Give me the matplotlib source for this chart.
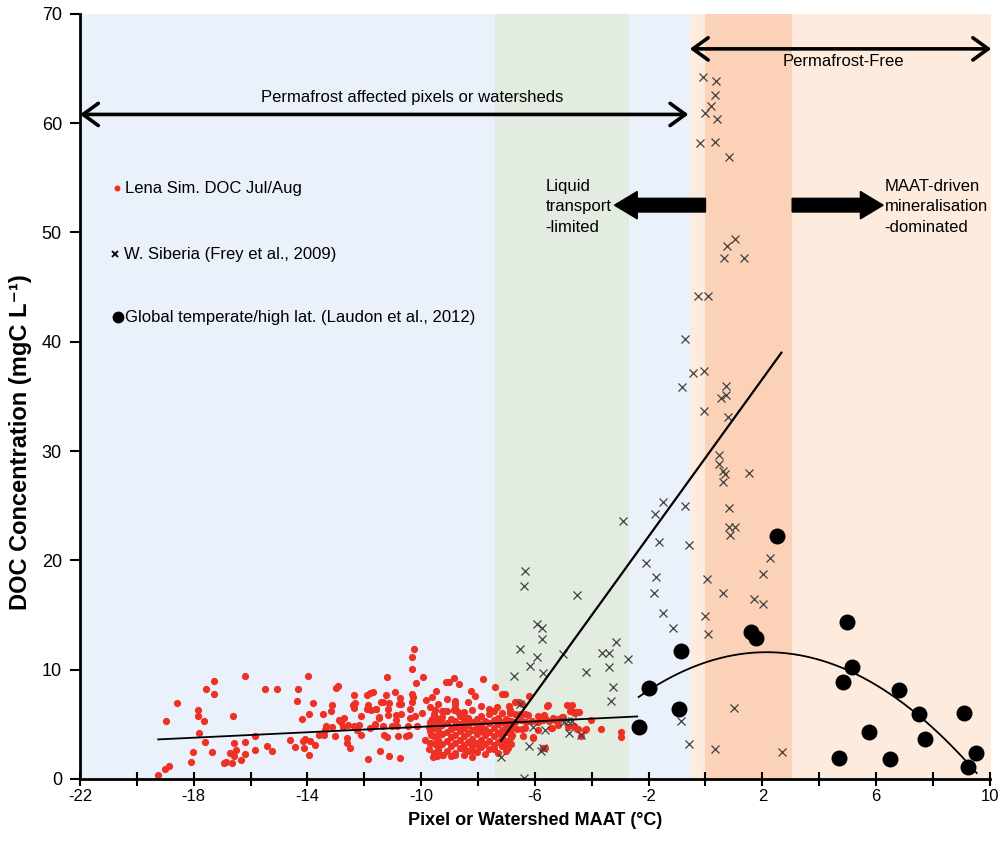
import matplotlib.pyplot as plt
import numpy as np
from matplotlib.patches import FancyArrow

plt.rcParams['font.family'] = ['Liberation Sans', 'DejaVu Sans']
plt.rcParams['axes.unicode_minus'] = False

# background regions (MAAT ranges)
band_blue = (-22, -0.55)
band_green = (-7.4, -2.7)
band_light_orange = (-0.55, 10.05)
band_dark_orange = (0.0, 3.05)

# Lena simulated DOC Jul/Aug (MAAT, DOC)
lena_pts = [
    (-19.26, 0.37), (-19.0, 0.91), (-18.88, 1.19), (-18.97, 5.27), (-18.57, 6.91),
    (-18.11, 1.56), (-18.01, 2.50), (-17.85, 6.27), (-17.85, 5.78), (-17.64, 5.33),
    (-17.80, 4.23), (-17.60, 3.38), (-17.55, 8.19), (-17.30, 8.95), (-17.30, 7.82),
    (-17.37, 2.50), (-16.94, 1.43), (-16.87, 1.52), (-16.66, 1.46), (-16.73, 2.41),
    (-16.57, 2.13), (-16.52, 2.62), (-16.57, 3.26), (-16.62, 5.73), (-16.33, 1.72),
    (-16.21, 2.29), (-16.20, 3.42), (-16.21, 9.38), (-15.83, 3.93), (-15.84, 2.62),
    (-15.50, 8.25), (-15.08, 8.25), (-15.43, 3.00), (-15.25, 2.56), (-14.63, 3.60),
    (-14.45, 2.93), (-14.36, 7.15), (-14.33, 8.25), (-14.18, 5.49), (-14.17, 3.51),
    (-14.10, 3.66), (-14.13, 2.81), (-13.98, 9.42), (-13.96, 5.91), (-13.93, 2.20),
    (-13.90, 3.48), (-13.81, 6.91), (-13.72, 3.11), (-13.58, 4.03), (-13.46, 5.91),
    (-13.43, 4.03), (-13.34, 4.89), (-13.37, 4.48), (-13.18, 6.18), (-13.12, 6.73),
    (-13.14, 4.77), (-13.03, 3.89), (-12.99, 8.34), (-12.93, 8.50), (-12.90, 5.44),
    (-12.81, 5.17), (-12.71, 5.58), (-12.75, 4.77), (-12.62, 3.75), (-12.62, 3.26),
    (-12.51, 2.81), (-12.58, 4.93), (-12.37, 4.85), (-12.35, 7.64), (-12.40, 6.77),
    (-12.31, 6.95), (-12.36, 6.45), (-12.20, 4.93), (-12.24, 4.48), (-12.13, 4.03),
    (-12.10, 5.78), (-11.90, 7.69), (-11.81, 7.87), (-11.71, 7.97), (-11.87, 6.73),
    (-11.90, 6.36), (-11.75, 6.33), (-11.60, 6.36), (-11.80, 4.62), (-11.61, 4.98),
    (-11.48, 5.61), (-11.86, 1.83), (-11.43, 2.59), (-11.40, 7.05),
    (-10.26, 11.92), (-10.33, 11.16), (-10.33, 10.06), (-11.21, 9.33), (-9.93, 9.33),
    (-10.18, 8.75), (-11.24, 7.69), (-10.91, 7.96), (-10.33, 7.75), (-10.27, 7.53),
    (-10.75, 7.38), (-11.34, 7.02), (-11.12, 6.92), (-10.78, 6.83), (-10.70, 6.83),
    (-10.33, 7.07), (-9.84, 7.23), (-9.61, 7.47), (-9.46, 8.08), (-11.58, 6.36),
    (-11.15, 6.36), (-10.38, 6.36), (-9.98, 6.05), (-9.52, 6.30), (-9.27, 6.24),
    (-11.47, 5.63), (-11.17, 5.81), (-10.90, 5.87), (-10.70, 5.94), (-10.40, 5.57),
    (-10.22, 5.75), (-10.88, 5.39), (-9.62, 5.45), (-9.46, 5.60), (-9.30, 5.51),
    (-11.61, 4.99), (-11.33, 4.84), (-11.04, 4.84), (-10.84, 4.84), (-10.46, 4.84),
    (-10.16, 4.84), (-9.74, 4.72), (-9.59, 5.08), (-9.41, 5.17), (-11.29, 4.03),
    (-11.19, 3.85), (-10.83, 3.97), (-10.53, 3.91), (-10.41, 4.03), (-9.85, 3.55),
    (-9.67, 4.00), (-9.51, 3.85), (-9.37, 4.10), (-9.69, 3.25), (-9.53, 3.18),
    (-9.36, 3.09), (-9.74, 2.70), (-9.41, 2.63), (-11.12, 2.09), (-10.76, 1.96),
    (-9.60, 2.02), (-9.44, 2.09),
    (-9.11, 8.87), (-9.02, 8.87), (-8.86, 9.24), (-8.67, 8.69), (-7.81, 9.12),
    (-7.41, 8.39), (-8.26, 8.05), (-8.12, 7.59), (-7.15, 7.78), (-7.05, 7.78),
    (-8.81, 7.17), (-8.81, 6.83), (-9.20, 6.24), (-8.86, 6.30), (-8.71, 6.09),
    (-8.54, 5.93), (-7.61, 6.36), (-7.32, 6.60), (-6.88, 6.30), (-9.23, 2.20),
    (-8.81, 2.16), (-8.46, 2.63), (-8.22, 2.63), (-7.96, 3.00), (-7.44, 2.78),
    (-9.70, 3.3), (-9.70, 4.4), (-9.70, 5.2), (-9.70, 6.6),
    (-9.55, 2.4), (-9.55, 3.9), (-9.55, 4.7), (-9.55, 5.9),
    (-9.40, 2.9), (-9.40, 3.6), (-9.40, 4.5), (-9.40, 5.4), (-9.40, 6.9),
    (-9.25, 2.2), (-9.25, 3.2), (-9.25, 4.1), (-9.25, 4.9), (-9.25, 5.7),
    (-9.10, 2.6), (-9.10, 3.5), (-9.10, 4.3), (-9.10, 5.1), (-9.10, 6.2), (-9.10, 7.3),
    (-8.95, 2.1), (-8.95, 3.0), (-8.95, 3.8), (-8.95, 4.6), (-8.95, 5.5),
    (-8.80, 2.4), (-8.80, 3.3), (-8.80, 4.0), (-8.80, 4.8), (-8.80, 5.3), (-8.80, 6.5),
    (-8.65, 2.8), (-8.65, 3.6), (-8.65, 4.4), (-8.65, 5.0), (-8.65, 5.8),
    (-8.50, 2.2), (-8.50, 3.1), (-8.50, 3.9), (-8.50, 4.7), (-8.50, 5.4), (-8.50, 6.1),
    (-8.35, 2.6), (-8.35, 3.4), (-8.35, 4.2), (-8.35, 4.9), (-8.35, 5.6), (-8.35, 7.0),
    (-8.20, 2.0), (-8.20, 3.0), (-8.20, 3.7), (-8.20, 4.5), (-8.20, 5.2), (-8.20, 6.3),
    (-8.05, 2.5), (-8.05, 3.3), (-8.05, 4.1), (-8.05, 4.8), (-8.05, 5.5),
    (-7.90, 2.9), (-7.90, 3.6), (-7.90, 4.4), (-7.90, 5.0), (-7.90, 5.8), (-7.90, 6.7),
    (-7.75, 2.3), (-7.75, 3.2), (-7.75, 4.0), (-7.75, 4.6), (-7.75, 5.3),
    (-7.60, 2.7), (-7.60, 3.5), (-7.60, 4.3), (-7.60, 5.1), (-7.60, 5.9),
    (-7.45, 3.1), (-7.45, 3.9), (-7.45, 4.7), (-7.45, 5.4), (-7.45, 6.2),
    (-7.30, 2.4), (-7.30, 3.4), (-7.30, 4.2), (-7.30, 5.0), (-7.30, 5.6),
    (-7.15, 3.0), (-7.15, 3.8), (-7.15, 4.5), (-7.15, 5.2), (-7.15, 6.0),
    (-7.00, 2.6), (-7.00, 3.5), (-7.00, 4.3), (-7.00, 4.9), (-7.00, 5.5),
    (-6.85, 3.2), (-6.85, 4.0), (-6.85, 4.6), (-6.85, 5.3),
    (-6.20, 7.59), (-6.69, 7.00), (-6.57, 7.00), (-6.46, 6.90), (-6.92, 6.70),
    (-5.54, 6.73), (-4.88, 6.76), (-4.70, 6.76), (-4.76, 6.24), (-4.58, 6.00),
    (-6.88, 6.00), (-6.71, 5.95), (-6.52, 5.95), (-6.35, 5.90), (-6.24, 5.85),
    (-5.90, 5.80), (-5.75, 5.60), (-5.64, 5.60), (-5.35, 5.60), (-5.18, 5.50),
    (-5.00, 5.65), (-6.81, 4.80), (-6.81, 4.00), (-6.83, 3.85), (-6.63, 4.60),
    (-6.46, 4.60), (-6.33, 4.70), (-6.07, 3.75), (-5.88, 4.48), (-5.40, 4.71),
    (-5.18, 4.93), (-4.64, 4.84), (-4.53, 4.53), (-6.95, 2.79), (-5.64, 2.79),
    (-4.46, 6.12), (-4.56, 6.12), (-4.04, 5.39), (-4.48, 4.53), (-4.21, 4.53),
    (-3.66, 4.59), (-2.96, 4.32), (-2.96, 3.80), (-4.39, 3.93), (-5.57, 6.68),
    (-4.67, 6.15), (-5.03, 5.70), (-5.44, 4.71), (-6.06, 3.80), (-5.70, 2.79),
    (-6.43, 3.90), (-7.19, 3.55), (-6.96, 3.25), (-5.67, 5.85), (-5.12, 5.50),
    (-4.83, 4.80), (-4.23, 4.50),
    (-6.90, 5.3), (-6.70, 5.2), (-6.50, 5.4), (-6.30, 5.25), (-6.10, 5.35),
    (-5.90, 5.2), (-5.70, 5.4), (-5.50, 5.3), (-5.30, 5.4),
]

# W. Siberia, Frey et al. 2009
siberia_pts = [
    (-0.08, 64.2), (0.36, 63.9), (0.33, 62.6), (0.18, 61.6), (0.00, 60.9),
    (0.39, 60.4), (-0.20, 58.2), (0.35, 58.3), (0.82, 56.9), (1.03, 49.4),
    (0.77, 48.8), (0.66, 47.7), (1.37, 47.7), (-0.26, 44.2), (0.08, 44.2),
    (-0.71, 40.3), (-0.43, 37.1), (-0.06, 37.3), (-0.82, 35.9), (0.73, 36.0),
    (0.53, 34.9), (0.73, 35.1), (-0.06, 33.7), (0.78, 33.1), (0.48, 29.6),
    (0.46, 28.8), (0.61, 28.2), (0.70, 27.9), (1.53, 28.0), (0.61, 27.2),
    (-1.50, 25.3), (-0.72, 25.0), (-1.79, 24.2), (0.83, 24.8), (0.83, 23.1),
    (1.04, 23.1), (0.85, 22.3), (-2.89, 23.6), (-1.64, 21.7), (-0.58, 21.4),
    (2.26, 20.2), (-2.08, 19.8), (2.01, 18.8), (-1.73, 18.5), (0.04, 18.3),
    (-1.81, 17.0), (0.62, 17.0), (1.70, 16.5), (2.01, 16.0), (-1.48, 15.2),
    (-0.01, 14.9), (-1.13, 13.8), (0.09, 13.3), (-2.74, 11.0), (1.02, 6.5),
    (-0.85, 5.3), (-0.59, 3.2), (0.33, 2.7), (2.68, 2.5),
    (-6.33, 19.0), (-6.39, 17.7), (-4.52, 16.8), (-5.94, 14.2), (-5.74, 13.8),
    (-5.74, 12.8), (-6.51, 11.9), (-5.94, 11.2), (-5.00, 11.4), (-6.18, 10.3),
    (-5.73, 9.7), (-6.74, 9.4), (-4.21, 9.8), (-3.15, 12.5), (-3.64, 11.5),
    (-3.39, 11.5), (-3.39, 10.2), (-3.26, 8.4), (-3.32, 7.1), (-6.51, 6.9),
    (-6.06, 4.8), (-5.64, 4.5), (-4.97, 5.2), (-4.82, 5.3), (-4.68, 5.3),
    (-4.81, 4.2), (-4.39, 4.0), (-6.20, 3.0), (-5.79, 2.6), (-5.71, 2.8),
    (-7.19, 2.0), (-6.39, 0.05),
]

# Global temperate / high latitude, Laudon et al. 2012
laudon_pts = [
    (-2.00, 8.28), (-2.34, 4.73), (-0.85, 11.74), (-0.94, 6.43), (2.52, 22.26),
    (1.60, 13.48), (1.78, 12.86), (4.97, 14.36), (5.16, 10.25), (4.83, 8.87),
    (6.80, 8.17), (5.74, 4.33), (4.70, 1.89), (6.48, 1.80), (7.52, 5.98),
    (7.73, 3.66), (9.09, 6.07), (9.52, 2.35), (9.23, 1.08),
]

# trend lines
lena_fit_x = [-19.25, -2.4]
lena_fit_y = [3.62, 5.72]
siberia_fit_x = [-7.19, 2.67]
siberia_fit_y = [3.5, 39.0]
laudon_peak_x, laudon_peak_y, laudon_curv = 2.15, 11.6, 0.2025
laudon_range = (-2.35, 9.54)

red = '#EE3124'

fig = plt.figure(figsize=(10.02, 8.52), dpi=100)
ax = fig.add_axes([0.0798, 0.0857, 0.908, 0.898])

ax.axvspan(*band_blue, color='#EAF1FA', lw=0, zorder=0)
ax.axvspan(*band_green, color='#E3ECE1', lw=0, zorder=0)
ax.axvspan(*band_light_orange, color='#FDECDE', lw=0, zorder=0, clip_on=False)
ax.axvspan(*band_dark_orange, color='#FBD2B8', lw=0, zorder=0)

lx, ly = np.array(lena_pts).T
sx, sy = np.array(siberia_pts).T
gx, gy = np.array(laudon_pts).T

ax.plot(lx, ly, 'o', color=red, ms=5.2, mew=0, zorder=2)
ax.plot(sx, sy, 'x', color='#404040', ms=5.5, mew=0.9, zorder=3)
ax.plot(gx, gy, 'o', color='black', ms=11.5, mew=0, zorder=4)

ax.plot(lena_fit_x, lena_fit_y, color='black', lw=1.3, zorder=5)
ax.plot(siberia_fit_x, siberia_fit_y, color='black', lw=1.6, zorder=5)
qx = np.linspace(laudon_range[0], laudon_range[1], 200)
qy = laudon_peak_y - laudon_curv * (qx - laudon_peak_x) ** 2
ax.plot(qx, qy, color='black', lw=1.3, zorder=5)

# double-headed range arrows
arrow_kw = dict(arrowstyle='<->,head_length=0.55,head_width=0.4', lw=2.6,
                color='black', shrinkA=0, shrinkB=0, mutation_scale=20)
ax.annotate('', xy=(-22, 60.8), xytext=(-0.6, 60.8), arrowprops=arrow_kw,
            annotation_clip=False)
ax.annotate('', xy=(-0.55, 66.8), xytext=(10.05, 66.8), arrowprops=arrow_kw,
            annotation_clip=False)
ax.text(-10.3, 61.7, 'Permafrost affected pixels or watersheds', ha='center',
        va='bottom', fontsize=12)
ax.text(4.85, 65.6, 'Permafrost-Free', ha='center', va='center', fontsize=12)

# thick arrows
ax.add_patch(FancyArrow(0.0, 52.5, -3.2, 0, width=1.25, head_width=2.5,
                        head_length=0.8, length_includes_head=True,
                        color='black', zorder=6))
ax.add_patch(FancyArrow(3.05, 52.5, 3.2, 0, width=1.25, head_width=2.5,
                        head_length=0.8, length_includes_head=True,
                        color='black', zorder=6))
ax.text(-5.62, 54.9, 'Liquid\ntransport\n-limited', ha='left', va='top',
        fontsize=12, linespacing=1.45)
ax.text(6.3, 54.9, 'MAAT-driven\nmineralisation\n-dominated', ha='left',
        va='top', fontsize=12, linespacing=1.45)

# legend drawn as text
ax.plot(-20.7, 54.07, 'o', color=red, ms=4.3, mew=0)
ax.text(-20.4, 54.0, 'Lena Sim. DOC Jul/Aug', va='center', fontsize=12)
ax.plot(-20.77, 48.0, 'x', color='black', ms=4.5, mew=1.3)
ax.text(-20.45, 48.0, 'W. Siberia (Frey et al., 2009)', va='center', fontsize=12)
ax.plot(-20.67, 42.27, 'o', color='black', ms=8.5, mew=0)
ax.text(-20.4, 42.2, 'Global temperate/high lat. (Laudon et al., 2012)',
        va='center', fontsize=12)

ax.set_xlim(-22, 10)
ax.set_ylim(0, 70)
ax.set_xticks(np.arange(-22, 11, 4))
ax.set_xticks(np.arange(-20, 10, 4), minor=True)
ax.set_yticks(np.arange(0, 71, 10))
ax.tick_params(axis='x', which='both', direction='inout', length=10, width=1.5,
               labelsize=12, pad=2)
ax.tick_params(axis='y', direction='out', length=7, width=1.5, labelsize=13,
               pad=6)
for side in ['top', 'right']:
    ax.spines[side].set_visible(False)
for side in ['left', 'bottom']:
    ax.spines[side].set_linewidth(2)
    ax.spines[side].set_zorder(7)

ax.set_xlabel('Pixel or Watershed MAAT (°C)', fontsize=13, fontweight='bold',
              labelpad=6)
ax.set_ylabel('DOC Concentration (mgC L⁻¹)', fontsize=17, fontweight='bold')
ax.yaxis.set_label_coords(-0.053, 0.44)

fig.savefig('out.png', dpi=100)
